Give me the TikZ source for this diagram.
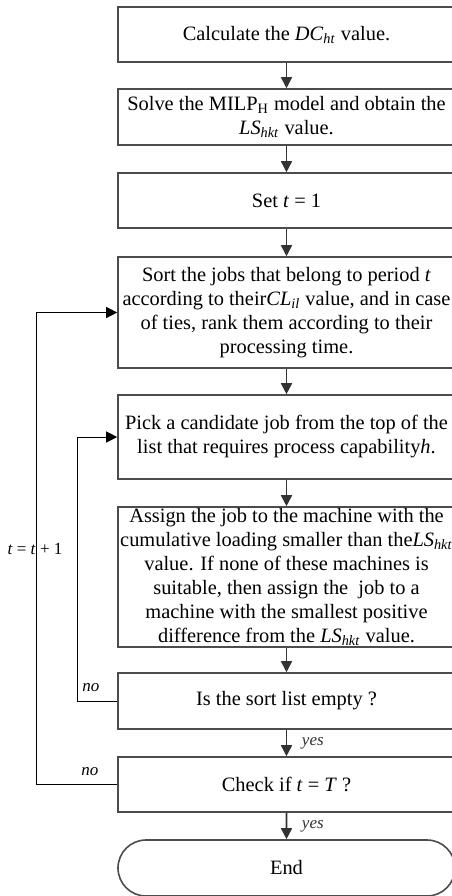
\documentclass[tikz,border=0pt]{standalone}
\usepackage{fontspec}
\setmainfont{Liberation Serif}
\usetikzlibrary{arrows.meta,shapes.misc}
\newcommand{\sym}[2]{\textit{#1}\textsubscript{\textit{#2}}}

\begin{document}
\begin{tikzpicture}[
    x=0.5pt,y=-0.5pt,
    stepbox/.style={draw=black!70,thick,minimum width=168.5pt,minimum height=#1,inner sep=0pt,align=center,font=\fontsize{10.2}{12}\selectfont},
    endbox/.style={draw=black!70,thick,rounded rectangle,minimum width=168.5pt,minimum height=28pt,inner sep=0pt,font=\fontsize{10.2}{12}\selectfont},
    flow/.style={-{Triangle[length=5.5pt,width=5.5pt]},black!80,thick},
    loop/.style={-{Triangle[length=5.5pt,width=5.5pt]},black},
    tag/.style={font=\fontsize{8.5}{10}\selectfont\itshape}
  ]
    \useasboundingbox (0,0) rectangle (451,896);

    % main column of steps
    \node[stepbox=27.5pt] (calc) at (286.5,34.5) {Calculate the \sym{DC}{ht} value.};
    \node[stepbox=28pt] (milp) at (286.5,117) {Solve the MILP\textsubscript{H} model and obtain the\\\sym{LS}{hkt} value.};
    \node[stepbox=27.5pt] (init) at (286.5,200.5) {Set \textit{t} = 1};
    \node[stepbox=55.5pt] (sort) at (286.5,312.5) {Sort the jobs that belong to period \textit{t}\\according to their\sym{CL}{il} value, and in case\\of ties, rank them according to their\\processing time.};
    \node[stepbox=42pt] (pick) at (286.5,437) {Pick a candidate job from the top of the\\list that requires process capability\textit{h}.};
    \node[stepbox=70pt] (assign) at (286.5,577) {Assign the job to the machine with the\\cumulative loading smaller than the\sym{LS}{hkt}\\value. If none of these machines is\\suitable, then assign the \ job to a\\machine with the smallest positive\\difference from the \sym{LS}{hkt} value.};
    \node[stepbox=28pt] (empty) at (286.5,701) {Is the sort list empty ?};
    \node[stepbox=27.5pt] (check) at (286.5,784.5) {Check if \textit{t} = \textit{T} ?};
    \node[endbox] (stop) at (286.5,868) {End};

    % straight flow
    \draw[flow] (calc) -- (milp);
    \draw[flow] (milp) -- (init);
    \draw[flow] (init) -- (sort);
    \draw[flow] (sort) -- (pick);
    \draw[flow] (pick) -- (assign);
    \draw[flow] (assign) -- (empty);
    \draw[flow] (empty) -- node[tag,right=4pt,pos=0.5] {yes} (check);
    \draw[flow] (check) -- node[tag,right=4pt,pos=0.5] {yes} (stop);

    % feedback loops
    \coordinate (inner) at (77,0);
    \coordinate (outer) at (36,0);
    \draw[loop] (empty.west) -- (empty.west -| inner) |- (pick.west);
    \draw[loop] (check.west) -- (check.west -| outer) |- (sort.west);
    \node[tag] (noempty) at (91,688) {no};
    \node[tag] (nocheck) at (90,772) {no};
    \node[font=\fontsize{8.5}{10}\selectfont] (incr) at (35,549) {\textit{t} = \textit{t} + 1};
\end{tikzpicture}
\end{document}
